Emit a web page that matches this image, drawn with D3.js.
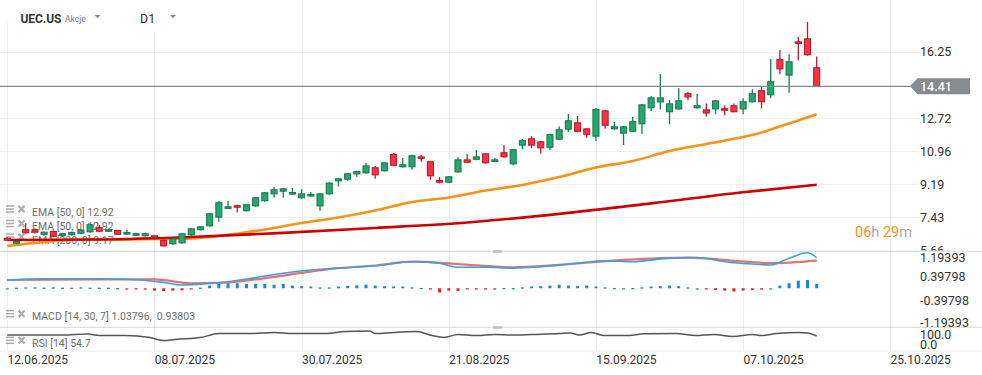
<!DOCTYPE html>
<html><head><meta charset="utf-8">
<script src="https://cdn.jsdelivr.net/npm/d3@7"></script>
<style>
html,body{margin:0;padding:0;background:#fff;overflow:hidden}
svg{display:block;font-family:Roboto,"Noto Sans",Arial,sans-serif}
</style></head><body>
<svg id="c" width="982" height="375"></svg>
<script>
// ---------- DATA ----------
const symbol = "UEC.US", symbolType = "Akcje", timeframe = "D1";
const opens  = [6.35,6.03,6.80,6.80,6.49,6.71,6.44,6.48,6.56,6.64,6.91,6.67,6.76,6.53,6.48,6.43,6.48,6.23,6.00,6.05,6.48,6.75,6.96,7.42,7.92,8.08,7.76,8.02,8.29,8.66,8.80,8.66,8.45,8.55,8.02,8.66,9.35,9.44,9.72,9.78,10.10,9.89,10.81,10.10,10.10,10.68,10.42,9.42,9.28,9.83,10.52,10.50,10.84,10.40,10.90,10.26,11.25,11.64,11.48,11.14,11.57,12.10,12.49,12.17,11.73,13.13,12.12,11.89,11.99,12.39,13.24,13.55,13.03,13.18,14.04,13.24,13.18,13.18,13.24,13.40,13.18,13.56,14.20,13.93,15.86,14.98,16.80,16.96,15.42];
const highs  = [6.37,6.20,7.12,6.84,6.70,6.73,6.61,6.67,6.82,7.09,7.03,6.83,6.78,6.78,6.61,6.61,6.50,6.25,6.34,6.60,6.87,6.98,7.67,8.30,8.30,8.10,8.15,8.52,8.79,9.05,9.00,8.99,8.93,8.78,8.73,9.30,9.53,9.80,9.92,10.33,10.17,10.38,10.86,10.59,10.76,10.75,10.44,9.58,9.64,10.63,10.81,11.02,10.86,10.59,11.29,11.08,11.60,11.76,11.50,11.88,12.28,12.93,12.83,12.19,13.25,13.15,12.51,12.30,12.78,13.47,13.89,15.06,13.68,14.30,14.10,14.00,13.50,13.68,13.40,13.50,13.77,14.25,14.37,15.86,16.34,16.11,17.03,17.83,16.00];
const lows   = [6.17,6.01,6.56,6.58,6.47,6.38,6.42,6.46,6.54,6.62,6.65,6.65,6.49,6.51,6.46,6.41,6.25,5.87,5.98,6.03,6.46,6.73,6.94,7.20,7.90,7.69,7.74,8.00,8.27,8.48,8.48,8.64,8.43,8.53,7.79,8.64,9.07,9.38,9.60,9.76,9.49,9.87,10.16,10.08,9.97,10.40,9.44,9.23,9.26,9.81,10.32,10.48,10.29,10.38,10.60,10.20,11.06,11.11,10.82,11.02,11.55,11.99,11.97,11.67,11.50,12.15,12.10,11.29,11.97,11.87,13.09,13.18,12.39,13.16,13.66,13.22,12.80,12.92,12.87,13.01,12.92,13.54,13.24,13.77,15.05,14.07,15.78,16.04,14.41];
const closes = [6.19,6.17,6.59,6.62,6.67,6.40,6.59,6.65,6.78,7.07,6.67,6.80,6.51,6.65,6.59,6.59,6.32,5.89,6.32,6.58,6.85,6.96,7.65,8.24,8.02,7.95,8.13,8.50,8.77,8.93,8.98,8.78,8.71,8.68,8.71,9.28,9.51,9.78,9.90,10.20,9.67,10.36,10.18,10.26,10.74,10.56,9.62,9.28,9.62,10.52,10.34,10.68,10.31,10.52,10.63,11.06,11.54,11.25,11.11,11.86,12.12,12.60,11.99,11.83,13.20,12.31,12.28,12.28,12.55,13.45,13.82,13.82,13.50,13.66,13.82,13.40,12.96,13.66,13.12,13.03,13.61,14.04,13.56,14.68,15.31,15.74,16.70,16.06,14.41];

// EMA lines: [candle index, value]
const ema50  = [[0,5.91],[4,6.12],[8,6.26],[12,6.26],[16,6.28],[20,6.31],[24,6.50],[28,6.79],[32,7.13],[36,7.43],[40,7.80],[44,8.25],[48,8.49],[52,8.86],[56,9.16],[60,9.58],[64,10.09],[68,10.43],[72,10.97],[76,11.34],[80,11.71],[82,11.95],[84,12.27],[86,12.59],[88,12.92]];
const ema200 = [[0,6.23],[10,6.26],[20,6.39],[30,6.61],[40,6.87],[50,7.16],[60,7.62],[70,8.18],[80,8.77],[88,9.17]];

// MACD (14,30,7)
const macdLine   = [[0,0.28],[4,0.32],[10,0.32],[14,0.29],[17,0.20],[19,0.11],[21,0.14],[24,0.22],[27,0.36],[30,0.51],[33,0.62],[36,0.68],[40,0.76],[44,0.90],[47,0.85],[49,0.71],[52,0.71],[55,0.68],[58,0.73],[62,0.85],[65,0.93],[68,0.90],[72,1.02],[75,1.04],[78,0.90],[81,0.82],[83,0.79],[85,1.02],[87,1.20],[88,1.03796]];
const signalLine = [[0,0.28],[10,0.30],[16,0.30],[20,0.17],[23,0.18],[27,0.30],[30,0.43],[35,0.65],[40,0.77],[44,0.90],[49,0.82],[55,0.71],[60,0.79],[67,0.96],[74,1.04],[79,0.93],[83,0.85],[88,0.93803]];
const macdHist = [0,0.02,0.03,0.03,0.02,0.03,0.02,0.02,0.03,0.02,0.02,0.02,0.01,-0.01,-0.03,-0.03,-0.08,-0.10,-0.08,-0.07,-0.02,0.02,0.09,0.15,0.17,0.17,0.15,0.15,0.15,0.12,0.15,0.09,0.07,0.06,0.03,0.03,0.06,0.08,0.10,0.12,0.09,0.07,0.06,0.06,0.03,0.01,-0.01,-0.14,-0.08,-0.09,-0.04,-0.03,-0.02,-0.01,0.01,0.01,0.03,0.06,0.07,0.09,0.12,0.09,0.07,0.09,0.06,0.03,0.01,0,0.01,0.03,0.06,0.07,0.09,0.07,0.03,0,-0.04,-0.06,-0.08,-0.11,-0.08,-0.06,-0.03,0,0.09,0.17,0.26,0.28,0.15];
const macdTicks = [1.19393,0.39798,-0.39798,-1.19393];

// RSI (14)
const rsiLine = [[0,60],[6,60],[8.7,65],[10,57],[12.8,57],[15.5,47],[17,32],[18.3,38],[21,47],[23,68],[26.4,67],[29,73],[31,67],[34.6,67],[36.7,77],[39.4,80],[40,67],[42,73],[44.5,77],[46.2,57],[47.5,48],[49,63],[51,57],[53,63],[55,60],[57,63],[60,67],[61.2,70],[62.2,60],[63.5,73],[64.9,57],[67.3,57],[69.3,66],[72.7,67],[74.8,57],[76.8,63],[78.9,53],[81,63],[82,57],[83.6,67],[86,73],[87,70],[88,54.7]];
const rsiTicks = [100,0];

const priceTicks = [16.25,12.72,10.96,9.19,7.43,5.66];
const dateTickIdx = [0,16,32,48,64,80,96];
const dateLabels = ["12.06.2025","08.07.2025","30.07.2025","21.08.2025","15.09.2025","07.10.2025","25.10.2025"];
const timerParts = [["06","o"],["h","g"],[" ",""],["29","o"],["m","g"]];

// ---------- DRAW ----------
const svg = d3.select("#c");
const x  = d3.scaleLinear().domain([0,88]).range([7.3,816.7]);
const y  = d3.scaleLinear().domain([5.66,16.25]).range([250.7,51.7]);
const yM = d3.scaleLinear().domain([-1.19393,1.19393]).range([323.5,253]);
const yR = d3.scaleLinear().domain([0,100]).range([347,327]);
const pane = {pTop:0,pBot:250.7,mTop:251.7,mBot:327.3,rTop:327.8,rBot:351};
const gridC = "#efefef", axisTxt = "#333";

const defs = svg.append("defs");
defs.append("clipPath").attr("id","cp").append("rect").attr("x",0).attr("y",0).attr("width",982).attr("height",pane.pBot);

// vertical grid
svg.append("g").selectAll("line").data(dateTickIdx).join("line")
  .attr("x1",d=>Math.round(x(d))+0.5).attr("x2",d=>Math.round(x(d))+0.5)
  .attr("y1",0).attr("y2",pane.rBot).attr("stroke",gridC).attr("stroke-width",1);
// horizontal grid price pane
svg.append("g").selectAll("line").data(priceTicks).join("line")
  .attr("x1",0).attr("x2",919).attr("y1",d=>Math.round(y(d))+0.5).attr("y2",d=>Math.round(y(d))+0.5)
  .attr("stroke",gridC);

// header cover
svg.append("rect").attr("x",0).attr("y",0).attr("width",196).attr("height",23).attr("fill","#fff");
svg.append("rect").attr("x",9).attr("y",0).attr("width",187).attr("height",31).attr("fill","#fff");

// header
svg.append("text").attr("x",20.5).attr("y",22.5).attr("font-size",12).attr("font-weight",700).attr("fill","#333").attr("textLength",41).text(symbol);
svg.append("text").attr("x",65).attr("y",21.5).attr("font-size",8.5).attr("fill","#777").text(symbolType);
svg.append("text").attr("x",140).attr("y",23).attr("font-size",12.5).attr("fill","#333").text(timeframe);
[[97.5,16.5],[173,16.5]].forEach(([cx,cy])=>{
  svg.append("path").attr("d",`M${cx-3},${cy-1.5}L${cx+3},${cy-1.5}L${cx},${cy+1.8}Z`).attr("fill","#8a8a8a");
});

// legend (under the marks)
function icons(cy){
  const g = svg.append("g");
  [-3,0,3].forEach(d=>g.append("line").attr("x1",6).attr("x2",14).attr("y1",cy+d).attr("y2",cy+d).attr("stroke","#adadad").attr("stroke-width",1.5));
  g.append("path").attr("d",`M18.5,${cy-3.2}L24.5,${cy+3.2}M24.5,${cy-3.2}L18.5,${cy+3.2}`).attr("stroke","#adadad").attr("stroke-width",2.2);
}
const e50last = ema50[ema50.length-1][1], e200last = ema200[ema200.length-1][1];
const legends = [
  [212, `EMA [50, 0] ${e50last.toFixed(2)}`],
  [226.5, `EMA [50, 0] ${e50last.toFixed(2)}`],
  [240, `EMA [200, 0] ${e200last.toFixed(2)}`],
  [316.7, `MACD [14, 30, 7] ${macdLine[macdLine.length-1][1].toFixed(5)},  ${signalLine[signalLine.length-1][1].toFixed(5)}`],
  [343.3, `RSI [14] ${rsiLine[rsiLine.length-1][1]}`]
];
legends.forEach(([cy,t])=>{
  icons(cy-3);
  svg.append("text").attr("x",32).attr("y",cy).attr("dy","0.35em").attr("font-size",10.5).attr("fill","#6e6e6e")
    .style("white-space","pre").text(t);
});

// timer
const tm = svg.append("text").attr("x",855).attr("y",231.5).attr("dy","0.35em").attr("font-size",14.5);
timerParts.forEach(([t,c])=>tm.append("tspan").attr("fill",c==="o"?"#f7941d":"#a9a9a9").style("white-space","pre").text(t));

// price pane marks
const gp = svg.append("g").attr("clip-path","url(#cp)");
const line = d3.line().x(d=>x(d[0])).y(d=>y(d[1])).curve(d3.curveMonotoneX);
gp.append("path").attr("d",line(ema50)).attr("fill","none").attr("stroke","#f7931a").attr("stroke-width",2.6);
gp.append("path").attr("d",line(ema200)).attr("fill","none").attr("stroke","#cc0000").attr("stroke-width",2.6);

const idx = d3.range(opens.length);
const up = i => closes[i] >= opens[i];
const bodyW = 7;
const cg = gp.append("g");
cg.selectAll("line").data(idx).join("line")
  .attr("x1",i=>x(i)).attr("x2",i=>x(i)).attr("y1",i=>y(highs[i])).attr("y2",i=>y(lows[i]))
  .attr("stroke",i=>up(i)?"#1b7a50":"#b31d2d").attr("stroke-width",1.3);
cg.selectAll("rect").data(idx).join("rect")
  .attr("x",i=>x(i)-bodyW/2+0.5).attr("width",bodyW-1)
  .attr("y",i=>y(Math.max(opens[i],closes[i]))+0.5)
  .attr("height",i=>Math.max(1.5,y(Math.min(opens[i],closes[i]))-y(Math.max(opens[i],closes[i]))-1))
  .attr("fill",i=>up(i)?"#23a86e":"#ff3145").attr("stroke",i=>up(i)?"#1b7a50":"#b31d2d").attr("stroke-width",1.1);

// current price line + label
const last = closes[closes.length-1], ly = y(last);
svg.append("line").attr("x1",0).attr("x2",911).attr("y1",ly).attr("y2",ly).attr("stroke","#7e8a8f").attr("stroke-width",1.3);
svg.append("path").attr("d",`M910,${ly}L917.5,${ly-8}L970,${ly-8}L970,${ly+8}L917.5,${ly+8}Z`).attr("fill","#848c90");
svg.append("text").attr("x",920).attr("y",ly).attr("dy","0.36em").attr("font-size",12.5).attr("font-weight",500).attr("fill","#fff").text(last.toFixed(2));

// price axis labels
svg.append("g").attr("clip-path","url(#cp)").selectAll("text").data(priceTicks).join("text")
  .attr("x",920).attr("y",d=>y(d)).attr("dy","0.36em").attr("font-size",12.5).attr("fill",axisTxt).text(d=>d.toFixed(2));

// separators
[pane.pBot+0.5, pane.mBot].forEach(v=>svg.append("line").attr("x1",0).attr("x2",982).attr("y1",v).attr("y2",v).attr("stroke","#d6d6d6"));
svg.append("line").attr("x1",0).attr("x2",982).attr("y1",pane.rBot).attr("y2",pane.rBot).attr("stroke","#e8e8e8");
[pane.pBot-0.5, pane.mBot-1].forEach(v=>svg.append("rect").attr("x",493).attr("y",v).attr("width",9).attr("height",2.5).attr("fill","#bdbdbd"));

// MACD pane
const z0 = yM(0);
svg.append("g").selectAll("rect").data(idx).join("rect")
  .attr("x",i=>x(i)-1.5).attr("width",3)
  .attr("y",i=>Math.min(z0,yM(macdHist[i]))).attr("height",i=>Math.max(1.3,Math.abs(yM(macdHist[i])-z0)))
  .attr("fill",i=>macdHist[i]>=0?"#1a87d3":"#e0242f");
const lm = d3.line().x(d=>x(d[0])).y(d=>yM(d[1])).curve(d3.curveMonotoneX);
svg.append("path").attr("d",lm(signalLine)).attr("fill","none").attr("stroke","#e06464").attr("stroke-width",2.2).attr("opacity",0.9);
svg.append("path").attr("d",lm(macdLine)).attr("fill","none").attr("stroke","#3d9fe0").attr("stroke-width",1.6);
svg.append("g").selectAll("text").data(macdTicks).join("text")
  .attr("x",920).attr("y",d=>Math.max(pane.mTop+6,Math.min(pane.mBot-4.5,yM(d)))).attr("dy","0.36em")
  .attr("font-size",12.5).attr("fill",axisTxt).text(d=>d.toFixed(5));

// RSI pane
const lr = d3.line().x(d=>x(d[0])).y(d=>yR(d[1])).curve(d3.curveMonotoneX);
svg.append("path").attr("d",lr(rsiLine)).attr("fill","none").attr("stroke","#555").attr("stroke-width",1.5);
svg.append("g").selectAll("text").data(rsiTicks).join("text")
  .attr("x",920).attr("y",d=>Math.max(pane.rTop+6.7,Math.min(pane.rBot-6.5,yR(d)))).attr("dy","0.36em")
  .attr("font-size",12.5).attr("fill",axisTxt).text(d=>d.toFixed(1));

// date axis
svg.append("g").selectAll("text").data(dateTickIdx).join("text")
  .attr("x",d=>x(d)+0.3).attr("y",359.5).attr("dy","0.36em").attr("font-size",12).attr("fill",axisTxt)
  .text((d,i)=>dateLabels[i]);
</script>
</body></html>
